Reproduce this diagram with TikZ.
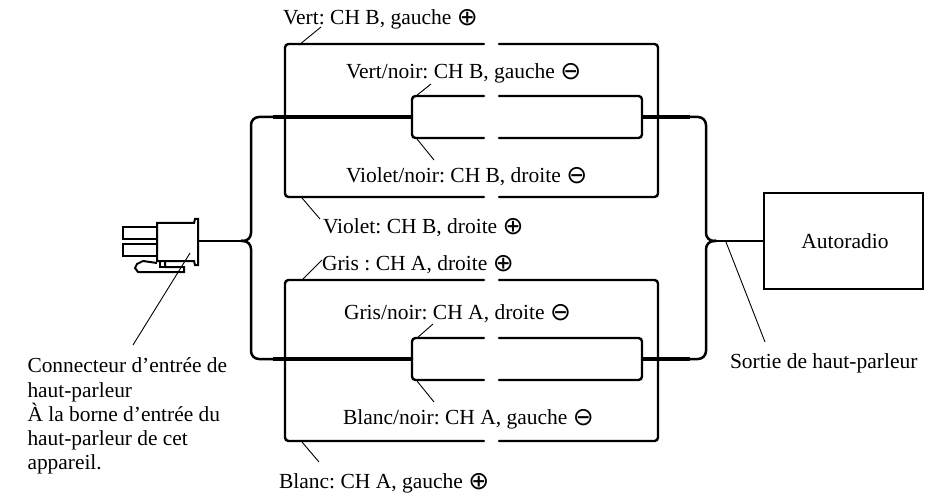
\documentclass[tikz,border=0pt]{standalone}
\usepackage{fontspec}
\setmainfont{Liberation Serif}
\newfontfamily\symfont{DejaVu Sans}
\frenchspacing
\newcommand{\cplus}{{\symfont\fontsize{25}{25}\selectfont\raisebox{-1pt}{⊕}}}
\newcommand{\cminus}{{\symfont\fontsize{25}{25}\selectfont\raisebox{-1pt}{⊖}}}
\tikzset{
  wire/.style={line width=2.4pt,line cap=round,line join=round,rounded corners=3.5pt},
  trunk/.style={line width=2.5pt,line cap=round,rounded corners=8pt},
  heavy/.style={line width=3.1pt,line cap=butt},
  leader/.style={line width=0.9pt},
  part/.style={line width=2pt,line join=miter},
  lab/.style={anchor=base west,inner sep=0pt,outer sep=0pt,font=\fontsize{21.5}{21.3}\selectfont},
}
\begin{document}
\begin{tikzpicture}[x=1pt,y=-1pt]
\useasboundingbox (0,0) rectangle (936,494);
% labels
\node[lab] (lvert) at (283,24.5) {Vert: CH B, gauche \cplus};
\node[lab] (lvertn) at (346,78.5) {Vert/noir: CH B, gauche \cminus};
\node[lab] (lvion) at (346,183) {Violet/noir: CH B, droite \cminus};
\node[lab] (lvio) at (323,233.5) {Violet: CH B, droite \cplus};
\node[lab] (lgris) at (322,270) {Gris : CH A, droite \cplus};
\node[lab] (lgrisn) at (344,319.5) {Gris/noir: CH A, droite \cminus};
\node[lab] (lblcn) at (343,424) {Blanc/noir: CH A, gauche \cminus};
\node[lab] (lblc) at (279,488) {Blanc: CH A, gauche \cplus};
\node[lab] (lsortie) at (730,368) {Sortie de haut-parleur};
\node[lab,anchor=north west,align=left,font=\fontsize{21.4}{24.2}\selectfont] (lconn) at (27.5,358) {Connecteur d’entrée de\\haut-parleur\\À la borne d’entrée du\\haut-parleur de cet\\appareil.};
\node[draw,line width=1.6pt,minimum width=159pt,minimum height=96pt,inner sep=0pt,font=\fontsize{21.5}{21.3}\selectfont] (radio) at (843.5,241) {\hspace*{3pt}Autoradio};
% junction coordinates
\coordinate (jl) at (241,241);
\coordinate (jr) at (716,241);
\coordinate (cout) at (199,241);
% connector plug
\draw[part,fill=white] (157,263) -- (143,261) -- (137,264) -- (135,268) -- (138,272) -- (184,272) -- (184,267) -- (165,267) -- (165,262);
\draw[part] (160,262) -- (160,267) -- (165,267);
\draw[part] (157,227) -- (123,227) -- (123,239) -- (157,239);
\draw[part] (157,244) -- (123,244) -- (123,256) -- (157,256);
\draw[part,fill=white] (157,223) -- (194,223) -- (195,219) -- (198,219) -- (198,265) -- (195,265) -- (194,261) -- (157,261) -- cycle;
% trunks
\draw[wire] (cout) -- (jl);
\draw[trunk] (412,117) -- (251,117) -- (251,241) -- (jl);
\draw[trunk] (412,359) -- (251,359) -- (251,241) -- (jl);
\draw[trunk] (642,117) -- (706,117) -- (706,241) -- (jr);
\draw[trunk] (642,359) -- (706,359) -- (706,241) -- (jr);
\draw[heavy] (273,117) -- (412,117);
\draw[heavy] (273,359) -- (412,359);
\draw[heavy] (642,117) -- (690,117);
\draw[heavy] (642,359) -- (690,359);
\draw[wire] (jr) -- (radio.west);
% upper harness
\draw[wire] (484,44) -- (285,44) -- (285,197) -- (484,197);
\draw[wire] (499,44) -- (658,44) -- (658,197) -- (499,197);
\draw[wire] (484,96) -- (412,96) -- (412,138) -- (484,138);
\draw[wire] (499,96) -- (642,96) -- (642,138) -- (499,138);
% lower harness
\draw[wire] (484,280) -- (285,280) -- (285,441) -- (484,441);
\draw[wire] (499,280) -- (658,280) -- (658,441) -- (499,441);
\draw[wire] (484,338) -- (412,338) -- (412,380) -- (484,380);
\draw[wire] (499,338) -- (642,338) -- (642,380) -- (499,380);
% leaders
\coordinate (a1) at (299,45);
\coordinate (a2) at (416,96);
\coordinate (a3) at (417,139);
\coordinate (a4) at (302,198);
\coordinate (a5) at (302,280);
\coordinate (a6) at (417,338);
\coordinate (a7) at (417,381);
\coordinate (a8) at (302,442);
\coordinate (a9) at (726,242);
\coordinate (a10) at (190,253);
\coordinate (b1) at (321,27);
\coordinate (b2) at (431,84);
\coordinate (b3) at (434,160);
\coordinate (b4) at (320,219);
\coordinate (b5) at (322,260);
\coordinate (b6) at (433,324);
\coordinate (b7) at (434,402);
\coordinate (b8) at (319,462);
\coordinate (b9) at (765,342);
\coordinate (b10) at (133,345);
\foreach \n in {1,...,10} {\draw[leader] (a\n) -- (b\n);}
\end{tikzpicture}
\end{document}
